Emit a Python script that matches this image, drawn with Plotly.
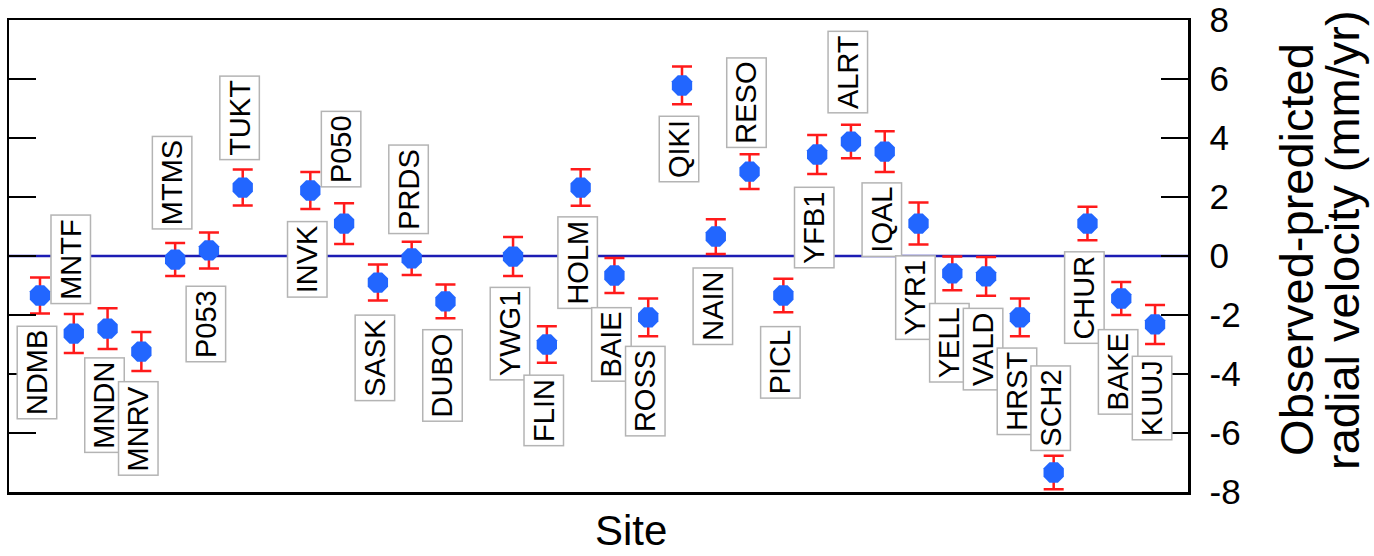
import plotly.graph_objects as go

# ---- data ----
sites = ["NDMB", "MNTF", "MNDN", "MNRV", "MTMS", "P053", "TUKT", "INVK", "P050", "SASK",
         "PRDS", "DUBO", "YWG1", "FLIN", "HOLM", "BAIE", "ROSS", "QIKI", "NAIN", "RESO",
         "PICL", "YFB1", "ALRT", "IQAL", "YYR1", "YELL", "VALD", "HRST", "SCH2", "CHUR",
         "BAKE", "KUUJ"]
site_index = [1, 2, 3, 4, 5, 6, 7, 9, 10, 11,
              12, 13, 15, 16, 17, 18, 19, 20, 21, 22,
              23, 24, 25, 26, 27, 28, 29, 30, 31, 32,
              33, 34]
residual = [-1.34, -2.63, -2.46, -3.24, -0.12, 0.19, 2.32, 2.22, 1.10, -0.90,
            -0.08, -1.54, -0.02, -3.00, 2.32, -0.66, -2.08, 5.78, 0.66, 2.86,
            -1.34, 3.44, 3.88, 3.54, 1.10, -0.59, -0.69, -2.08, -7.34, 1.10,
            -1.44, -2.32]
uncertainty = [0.61, 0.66, 0.69, 0.66, 0.56, 0.61, 0.61, 0.63, 0.69, 0.61,
               0.56, 0.57, 0.66, 0.62, 0.62, 0.59, 0.64, 0.64, 0.59, 0.59,
               0.57, 0.66, 0.57, 0.69, 0.71, 0.57, 0.66, 0.64, 0.57, 0.57,
               0.56, 0.66]
# label box centres (axis units) - layout of the callouts
label_y = [-3.95, -0.12, -5.07, -5.85, 2.49, -2.29, 4.69, -0.12, 3.61, -3.44,
           2.25, -4.05, -2.63, -5.24, -0.22, -3.00, -4.59, 3.61, -1.71, 5.20,
           -3.61, 0.97, 6.25, 1.24, -1.41, -2.93, -3.17, -4.59, -5.17, -1.41,
           -3.92, -4.83]
tick_vals = [8, 6, 4, 2, 0, -2, -4, -6, -8]
tick_labels = ["8", "6", "4", "2", "0", "-2", "-4", "-6", "-8"]

FONT = "Liberation Sans, Arial, sans-serif"

fig = go.Figure()
fig.add_trace(go.Scatter(
    x=site_index, y=residual, mode="markers",
    marker=dict(symbol="octagon", size=22, color="#2266ff", line=dict(width=0)),
    error_y=dict(type="data", array=uncertainty, visible=True,
                 color="#ff1a1a", thickness=2.5, width=10),
    showlegend=False, cliponaxis=False, hoverinfo="skip",
))

for s, xi, ly in zip(sites, site_index, label_y):
    fig.add_annotation(
        x=xi, y=ly, xref="x", yref="y", text=s, showarrow=False,
        textangle=-90, xshift=-3,
        font=dict(family=FONT, size=29, color="black"),
        bgcolor="white", bordercolor="#b4b4b4", borderwidth=1.5, borderpad=3,
    )

fig.add_shape(type="line", xref="paper", yref="y", x0=0, x1=1, y0=0, y1=0,
              line=dict(color="#1c1cb4", width=2.5), layer="below")

fig.add_annotation(x=0.5276, y=-0.081, xref="paper", yref="paper", text="Site",
                   showarrow=False, xanchor="center", yanchor="middle",
                   font=dict(family=FONT, size=42, color="black"))
fig.add_annotation(x=1.0925, y=0.513, xref="paper", yref="paper",
                   text="Observed-predicted", textangle=-90, showarrow=False,
                   xanchor="center", yanchor="middle",
                   font=dict(family=FONT, size=47, color="black"))
fig.add_annotation(x=1.1315, y=0.534, xref="paper", yref="paper",
                   text="radial velocity (mm/yr)", textangle=-90, showarrow=False,
                   xanchor="center", yanchor="middle",
                   font=dict(family=FONT, size=47, color="black"))

fig.update_layout(
    width=1374, height=556,
    margin=dict(l=9, r=186, t=20, b=64, pad=0, autoexpand=False),
    paper_bgcolor="white", plot_bgcolor="white",
    font=dict(family=FONT, color="black"),
    hovermode=False,
    xaxis=dict(range=[0.083, 34.975], showgrid=False, zeroline=False,
               showticklabels=False, ticks="", showline=True, mirror=True,
               linecolor="black", linewidth=2.5, fixedrange=True, automargin=False),
    yaxis=dict(range=[-8, 8], side="right", showgrid=False, zeroline=False,
               tickvals=tick_vals, ticktext=tick_labels,
               ticks="inside", ticklen=27, tickwidth=2.5, tickcolor="black",
               showline=True, mirror="ticks", linecolor="black", linewidth=2.5,
               tickfont=dict(family=FONT, size=35, color="black"),
               ticklabelstandoff=12, ticklabeloverflow="allow", fixedrange=True,
               automargin=False),
)

fig.write_html("out.html", config={"displayModeBar": False, "staticPlot": True},
               post_script="document.body.style.margin='0';document.body.style.overflow='hidden';")
